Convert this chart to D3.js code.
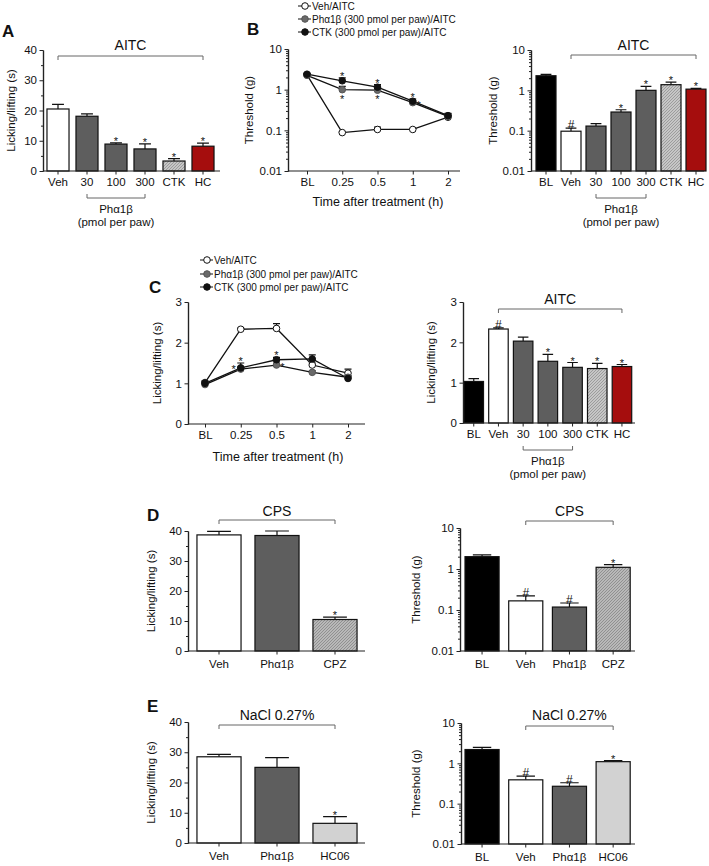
<!DOCTYPE html>
<html>
<head>
<meta charset="utf-8">
<script src="https://cdn.jsdelivr.net/npm/d3@7"></script>
<style>
  body { margin: 0; background: #fff; }
  text { font-family: "Liberation Sans", Arial, sans-serif; fill: #111; }
</style>
</head>
<body>
<script>
// ---- data ----
const doseCats = ['Veh', '30', '100', '300', 'CTK', 'HC'];
const baseDoseCats = ['BL', 'Veh', '30', '100', '300', 'CTK', 'HC'];
const timeCats = ['BL', '0.25', '0.5', '1', '2'];

// A: AITC licking
const aLick = [20.5, 18.1, 8.9, 7.3, 3.3, 8.2];
const aLickErr = [1.5, 0.8, 0.4, 1.7, 0.8, 1.0];
const aLickSig = ['', '', '*', '*', '*', '*'];

// B: threshold time course
const bVeh = [2.3, 0.088, 0.105, 0.105, 0.21];
const bVehErr = [0.15, 0.004, 0.015, 0.005, 0.02];
const bPha = [2.25, 1.0, 0.97, 0.48, 0.22];
const bPhaErr = [0.15, 0.2, 0.12, 0.06, 0.03];
const bCtk = [2.4, 1.65, 1.15, 0.52, 0.23];
const bCtkErr = [0.15, 0.3, 0.18, 0.07, 0.03];
const bCtkSig = ['', '*', '*', '*', ''];
const bPhaSigBelow = ['', '*', '*', '', ''];
const bPhaSigRight = ['', '', '', '*', ''];

// B: threshold bars
const bThr = [2.3, 0.097, 0.13, 0.29, 1.0, 1.38, 1.07];
const bThrErr = [0.2, 0.018, 0.02, 0.04, 0.25, 0.22, 0.05];
const bThrSig = ['', '#', '', '*', '*', '*', '*'];

// C: licking time course
const cVeh = [1.02, 2.33, 2.35, 1.45, 1.25];
const cVehErr = [0.04, 0.03, 0.12, 0.05, 0.1];
const cPha = [0.97, 1.35, 1.45, 1.27, 1.15];
const cPhaErr = [0.04, 0.05, 0.05, 0.04, 0.04];
const cCtk = [1.0, 1.38, 1.58, 1.6, 1.12];
const cCtkErr = [0.04, 0.12, 0.06, 0.1, 0.05];
const cCtkSig = ['', '*', '*', '', ''];
const cPhaSigLeft = ['', '*', '', '', ''];
const cPhaSigRight = ['', '', '*', '', ''];

// C: licking bars
const cLick = [1.03, 2.33, 2.03, 1.53, 1.38, 1.35, 1.4];
const cLickErr = [0.07, 0.03, 0.1, 0.17, 0.12, 0.13, 0.05];
const cLickSig = ['', '#', '', '*', '*', '*', '*'];

// D: CPS
const dLickCats = ['Veh', 'Phα1β', 'CPZ'];
const dLick = [38.7, 38.5, 10.5];
const dLickErr = [1.2, 1.5, 0.8];
const dLickSig = ['', '', '*'];
const dThrCats = ['BL', 'Veh', 'Phα1β', 'CPZ'];
const dThr = [2.0, 0.167, 0.118, 1.1];
const dThrErr = [0.2, 0.055, 0.03, 0.18];
const dThrSig = ['', '#', '#', '*'];

// E: NaCl 0.27%
const eLickCats = ['Veh', 'Phα1β', 'HC06'];
const eLick = [28.5, 25.0, 6.5];
const eLickErr = [0.8, 3.2, 2.2];
const eLickSig = ['', '', '*'];
const eThrCats = ['BL', 'Veh', 'Phα1β', 'HC06'];
const eThr = [2.2, 0.39, 0.27, 1.1];
const eThrErr = [0.3, 0.09, 0.06, 0.07];
const eThrSig = ['', '#', '#', '*'];

const legendLabels = ['Veh/AITC', 'Phα1β (300 pmol per paw)/AITC', 'CTK (300 pmol per paw)/AITC'];

// ---- drawing ----
const svg = d3.select('body').append('svg').attr('width', 709).attr('height', 866);
const defs = svg.append('defs');

function hatch(id, bg, line) {
    const p = defs.append('pattern').attr('id', id)
        .attr('patternUnits', 'userSpaceOnUse').attr('width', 3).attr('height', 3);
    p.append('rect').attr('width', 3).attr('height', 3).attr('fill', bg);
    p.append('path').attr('d', 'M0,3L3,0M-1,1L1,-1M2,4L4,2')
        .attr('stroke', line).attr('stroke-width', 0.7);
}
hatch('hatchCtk', '#c6c6c6', '#8a8a8a');
hatch('hatchCpz', '#b8b8b8', '#7e7e7e');

const DARK = '#5e5e5e';
const fillFor = {
    BL: '#000', Veh: '#fff', '30': DARK, '100': DARK, '300': DARK, 'Phα1β': DARK,
    CTK: 'url(#hatchCtk)', CPZ: 'url(#hatchCpz)', HC: '#a50d0d', HC06: '#d2d2d2'
};
const logMajor = [0.01, 0.1, 1, 10];
const logMinor = [];
[0.01, 0.1, 1].forEach(d => { for (let k = 2; k <= 9; k++) logMinor.push(d * k); });

function styleAxis(g) {
    g.select('.domain').attr('stroke', '#222').attr('stroke-width', 1.2);
    g.selectAll('.tick line').attr('stroke', '#222');
    g.selectAll('.tick text').style('font-size', '11.5px').attr('fill', '#111');
}

function drawYAxis(p, y, major, minor) {
    const gMin = svg.append('g').attr('transform', `translate(${p.x0},0)`)
        .call(d3.axisLeft(y).tickValues(minor).tickSize(2).tickSizeOuter(0).tickFormat(''));
    styleAxis(gMin);
    const g = svg.append('g').attr('transform', `translate(${p.x0},0)`)
        .call(d3.axisLeft(y).tickValues(major).tickSize(3.5).tickSizeOuter(0).tickPadding(2.5)
            .tickFormat(d => String(d)));
    styleAxis(g);
    svg.append('text')
        .attr('transform', `translate(${p.titleX},${(p.yTop + p.yBot) / 2}) rotate(-90)`)
        .attr('text-anchor', 'middle').attr('dominant-baseline', 'middle')
        .style('font-size', '11.5px').text(p.title);
}

function drawXAxis(p, x) {
    svg.append('line').attr('x1', p.x0).attr('x2', p.x1).attr('y1', p.yBot).attr('y2', p.yBot)
        .attr('stroke', '#222').attr('stroke-width', 1.2);
    const g = svg.append('g').attr('transform', `translate(0,${p.yBot})`)
        .call(d3.axisBottom(x).tickSize(3.5).tickPadding(p.xPad || 3));
    g.select('.domain').remove();
    styleAxis(g);
}

function bracket(xa, xb, y, label, textY) {
    svg.append('path').attr('d', `M${xa},${y + 4}V${y}H${xb}V${y + 4}`)
        .attr('fill', 'none').attr('stroke', '#666').attr('stroke-width', 1);
    svg.append('text').attr('x', (xa + xb) / 2).attr('y', textY)
        .attr('text-anchor', 'middle').style('font-size', '14px').text(label);
}

function doseBracket(xa, xb, y) {
    svg.append('path').attr('d', `M${xa},${y - 4}V${y}H${xb}V${y - 4}`)
        .attr('fill', 'none').attr('stroke', '#666').attr('stroke-width', 1);
    const cx = (xa + xb) / 2;
    svg.append('text').attr('x', cx).attr('y', y + 15).attr('text-anchor', 'middle')
        .style('font-size', '11.5px').text('Phα1β');
    svg.append('text').attr('x', cx).attr('y', y + 28).attr('text-anchor', 'middle')
        .style('font-size', '11.5px').text('(pmol per paw)');
}

function barPanel(p) {
    const y = p.log
        ? d3.scaleLog().domain([0.01, 10]).range([p.yBot, p.yTop])
        : d3.scaleLinear().domain([0, p.yMax]).range([p.yBot, p.yTop]);
    const n = p.cats.length;
    const x = d3.scaleBand().domain(p.cats).range([p.r0, p.r0 + n * p.step])
        .paddingInner(p.pad).paddingOuter(p.pad / 2);
    const bw = x.bandwidth();
    const rows = p.cats.map((c, i) => ({ c, v: p.vals[i], e: p.errs[i], s: p.sig[i] }));
    const g = svg.append('g');

    g.selectAll('path.err').data(rows).join('path').attr('class', 'err')
        .attr('d', d => {
            const cx = x(d.c) + bw / 2, w = bw * 0.27, t = y(d.v + d.e);
            return `M${cx},${y(d.v)}V${t}M${cx - w},${t}H${cx + w}`;
        })
        .attr('fill', 'none').attr('stroke', '#111').attr('stroke-width', 1.2);

    g.selectAll('rect').data(rows).join('rect')
        .attr('x', d => x(d.c)).attr('width', bw)
        .attr('y', d => y(d.v)).attr('height', d => p.yBot - y(d.v))
        .attr('fill', d => fillFor[d.c]).attr('stroke', '#111').attr('stroke-width', 1.2);

    g.selectAll('text.sig').data(rows.filter(d => d.s)).join('text').attr('class', 'sig')
        .attr('x', d => x(d.c) + bw / 2).attr('y', d => y(d.v + d.e) + (d.s === '*' ? 2 : 1))
        .attr('text-anchor', 'middle').style('font-size', d => d.s === '*' ? '11px' : '12px')
        .text(d => d.s);

    drawYAxis(p, y, p.log ? logMajor : p.major, p.log ? logMinor : p.minor);
    drawXAxis(p, x);

    const cx = c => x(c) + bw / 2;
    if (p.bracket) bracket(cx(p.bracket.from), cx(p.bracket.to), p.bracket.y, p.bracket.text, p.bracket.textY);
    if (p.doses) doseBracket(cx('30'), cx('300'), p.yBot + 27);
}

function linePanel(p) {
    const y = p.log
        ? d3.scaleLog().domain([0.01, 10]).range([p.yBot, p.yTop])
        : d3.scaleLinear().domain([0, p.yMax]).range([p.yBot, p.yTop]);
    const x = d3.scalePoint().domain(timeCats).range([p.px0, p.px1]);
    const g = svg.append('g');
    const line = d3.line().x((d, i) => x(timeCats[i])).y(d => y(d));

    p.series.forEach(s => {
        g.append('path').datum(s.vals).attr('d', line)
            .attr('fill', 'none').attr('stroke', '#111').attr('stroke-width', 1.3);
    });
    p.series.forEach(s => {
        g.append('g').selectAll('path').data(s.vals).join('path')
            .attr('d', (d, i) => {
                const cx = x(timeCats[i]), t = y(d + s.errs[i]);
                return `M${cx},${y(d)}V${t}M${cx - 3.5},${t}H${cx + 3.5}`;
            })
            .attr('fill', 'none').attr('stroke', '#111').attr('stroke-width', 1.2);
    });
    p.series.forEach(s => {
        g.append('g').selectAll('circle').data(s.vals).join('circle')
            .attr('cx', (d, i) => x(timeCats[i])).attr('cy', d => y(d)).attr('r', 3.3)
            .attr('fill', s.fill).attr('stroke', s.stroke).attr('stroke-width', 1);
    });

    // significance stars
    p.stars.forEach(st => {
        st.marks.forEach((m, i) => {
            if (!m) return;
            const v = st.series.vals[i], cx = x(timeCats[i]);
            let tx = cx, ty;
            if (st.pos === 'above') ty = y(v + st.series.errs[i]) + 2;
            if (st.pos === 'below') ty = y(v) + 13;
            if (st.pos === 'right') { tx = cx + 6; ty = y(v) + 6; }
            if (st.pos === 'left') { tx = cx - 7; ty = y(v) + 4; }
            g.append('text').attr('x', tx).attr('y', ty).attr('text-anchor', 'middle')
                .style('font-size', '11px').text(m);
        });
    });

    drawYAxis(p, y, p.log ? logMajor : p.major, p.log ? logMinor : p.minor);
    drawXAxis(p, x);
    svg.append('text').attr('x', p.xTitleX).attr('y', p.xTitleY).attr('text-anchor', 'middle')
        .style('font-size', '12.5px').text('Time after treatment (h)');

    // legend
    p.series.forEach((s, i) => {
        const ly = p.legendY[i];
        svg.append('line').attr('x1', p.legendX - 7).attr('x2', p.legendX + 6)
            .attr('y1', ly).attr('y2', ly).attr('stroke', '#111').attr('stroke-width', 1);
        svg.append('circle').attr('cx', p.legendX).attr('cy', ly).attr('r', 3.3)
            .attr('fill', s.fill).attr('stroke', s.stroke);
        svg.append('text').attr('x', p.legendX + 7).attr('y', ly + 3.5)
            .style('font-size', '10px').text(legendLabels[i]);
    });
}

function panelLabel(t, x, y) {
    svg.append('text').attr('x', x).attr('y', y).style('font-size', '17px')
        .style('font-weight', 'bold').text(t);
}

// ---- panels ----
panelLabel('A', 2, 37);
barPanel({
    cats: doseCats, vals: aLick, errs: aLickErr, sig: aLickSig,
    log: false, yMax: 40, yTop: 50, yBot: 171, major: [0, 10, 20, 30, 40], minor: [5, 15, 25, 35],
    x0: 43, x1: 220, r0: 43.5, step: 29, pad: 0.24,
    title: 'Licking/lifting (s)', titleX: 12,
    bracket: { from: 'Veh', to: 'HC', y: 56, text: 'AITC', textY: 50 }, doses: true
});

panelLabel('B', 247, 35);
const bSeries = [
    { vals: bVeh, errs: bVehErr, fill: '#fff', stroke: '#111' },
    { vals: bPha, errs: bPhaErr, fill: '#6a6a6a', stroke: '#555' },
    { vals: bCtk, errs: bCtkErr, fill: '#111', stroke: '#111' }
];
linePanel({
    series: bSeries, log: true, yTop: 49, yBot: 171,
    x0: 288, x1: 460, px0: 307, px1: 448,
    title: 'Threshold (g)', titleX: 250, xTitleX: 378, xTitleY: 206,
    stars: [
        { series: bSeries[2], marks: bCtkSig, pos: 'above' },
        { series: bSeries[1], marks: bPhaSigBelow, pos: 'below' },
        { series: bSeries[1], marks: bPhaSigRight, pos: 'right' }
    ],
    legendX: 305, legendY: [6, 19, 32]
});

barPanel({
    cats: baseDoseCats, vals: bThr, errs: bThrErr, sig: bThrSig,
    log: true, yTop: 50, yBot: 171,
    x0: 531, x1: 704, r0: 533.5, step: 25, pad: 0.2,
    title: 'Threshold (g)', titleX: 494,
    bracket: { from: 'Veh', to: 'HC', y: 55, text: 'AITC', textY: 50 }, doses: true
});

panelLabel('C', 149, 293);
const cSeries = [
    { vals: cVeh, errs: cVehErr, fill: '#fff', stroke: '#111' },
    { vals: cPha, errs: cPhaErr, fill: '#6a6a6a', stroke: '#555' },
    { vals: cCtk, errs: cCtkErr, fill: '#111', stroke: '#111' }
];
linePanel({
    series: cSeries, log: false, yMax: 3, yTop: 302, yBot: 424, major: [0, 1, 2, 3], minor: [],
    x0: 188, x1: 365, px0: 205, px1: 348,
    title: 'Licking/lifting (s)', titleX: 158, xTitleX: 278, xTitleY: 461,
    stars: [
        { series: cSeries[2], marks: cCtkSig, pos: 'above' },
        { series: cSeries[1], marks: cPhaSigLeft, pos: 'left' },
        { series: cSeries[1], marks: cPhaSigRight, pos: 'right' }
    ],
    legendX: 207, legendY: [260, 274, 287]
});

barPanel({
    cats: baseDoseCats, vals: cLick, errs: cLickErr, sig: cLickSig,
    log: false, yMax: 3, yTop: 302, yBot: 423, major: [0, 1, 2, 3], minor: [],
    x0: 463, x1: 635, r0: 461.4, step: 24.7, pad: 0.21,
    title: 'Licking/lifting (s)', titleX: 432,
    bracket: { from: 'Veh', to: 'HC', y: 309, text: 'AITC', textY: 304 }, doses: true
});

panelLabel('D', 147, 521);
barPanel({
    cats: dLickCats, vals: dLick, errs: dLickErr, sig: dLickSig,
    log: false, yMax: 40, yTop: 531, yBot: 651, major: [0, 10, 20, 30, 40], minor: [5, 15, 25, 35],
    x0: 188, x1: 365, r0: 190, step: 58, pad: 0.24, xPad: 5,
    title: 'Licking/lifting (s)', titleX: 152,
    bracket: { from: 'Veh', to: 'CPZ', y: 520, text: 'CPS', textY: 516 }
});
barPanel({
    cats: dThrCats, vals: dThr, errs: dThrErr, sig: dThrSig,
    log: true, yTop: 528, yBot: 651,
    x0: 460, x1: 635, r0: 460.2, step: 43.7, pad: 0.22, xPad: 5,
    title: 'Threshold (g)', titleX: 417,
    bracket: { from: 'Veh', to: 'CPZ', y: 521, text: 'CPS', textY: 516 }
});

panelLabel('E', 147, 712);
barPanel({
    cats: eLickCats, vals: eLick, errs: eLickErr, sig: eLickSig,
    log: false, yMax: 40, yTop: 722, yBot: 843, major: [0, 10, 20, 30, 40], minor: [5, 15, 25, 35],
    x0: 188, x1: 365, r0: 190, step: 58, pad: 0.24, xPad: 5,
    title: 'Licking/lifting (s)', titleX: 152,
    bracket: { from: 'Veh', to: 'HC06', y: 725, text: 'NaCl 0.27%', textY: 720 }
});
barPanel({
    cats: eThrCats, vals: eThr, errs: eThrErr, sig: eThrSig,
    log: true, yTop: 723, yBot: 844,
    x0: 461, x1: 635, r0: 460.2, step: 43.7, pad: 0.22, xPad: 5,
    title: 'Threshold (g)', titleX: 417,
    bracket: { from: 'Veh', to: 'HC06', y: 726, text: 'NaCl 0.27%', textY: 720 }
});
</script>
</body>
</html>
